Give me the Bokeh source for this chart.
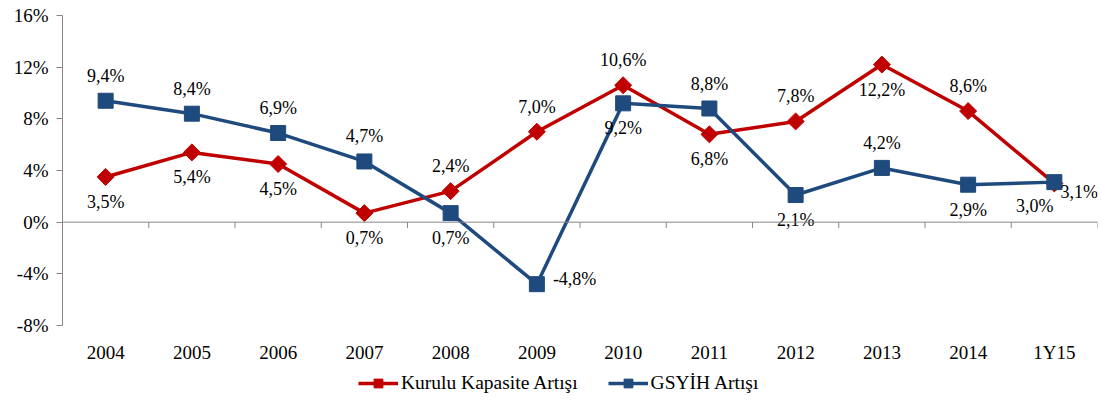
import math
from bokeh.plotting import figure
from bokeh.models import (ColumnDataSource, FixedTicker, Span, Legend, LegendItem)
from bokeh.layouts import column
from bokeh.core.properties import value
from bokeh.embed import file_html
from bokeh.resources import INLINE

years = ["2004", "2005", "2006", "2007", "2008", "2009", "2010", "2011", "2012", "2013", "2014", "1Y15"]
kapasite = [3.5, 5.4, 4.5, 0.7, 2.4, 7.0, 10.6, 6.8, 7.8, 12.2, 8.6, 3.0]
gsyih = [9.4, 8.4, 6.9, 4.7, 0.7, -4.8, 9.2, 8.8, 2.1, 4.2, 2.9, 3.1]
y_ticks = [-8, -4, 0, 4, 8, 12, 16]
series_names = ["Kurulu Kapasite Artışı", "GSYİH Artışı"]

# label placement per point
kap_pos = ["below", "below", "below", "below", "above", "above", "above", "below", "above", "below", "above", "belowleft"]
gsy_pos = ["above", "above", "above", "above", "below", "right", "below", "above", "below", "above", "below", "rightnear"]

RED = "#C00000"
BLUE = "#1F4A7E"
FONT = "Liberation Serif"
FS = "18px"
AXFS = "19px"

xs = list(range(len(years)))

p = figure(width=1101, height=365, output_backend="svg", toolbar_location=None,
           x_range=(-0.5, len(years) - 0.5), y_range=(-8, 16),
           min_border_left=62, min_border_right=4, min_border_top=15, min_border_bottom=40)
p.outline_line_color = None
p.xgrid.grid_line_color = None
p.ygrid.grid_line_color = None

# y axis
p.yaxis.ticker = FixedTicker(ticks=y_ticks)
p.yaxis.major_label_overrides = {t: f"{t}%" for t in y_ticks}
p.yaxis.axis_line_color = "#868686"
p.yaxis.major_tick_line_color = "#868686"
p.yaxis.major_tick_out = 6
p.yaxis.major_tick_in = 0
p.yaxis.minor_tick_line_color = None
p.yaxis.major_label_text_font = FONT
p.yaxis.major_label_text_font_size = AXFS
p.yaxis.major_label_text_color = "#000000"
p.yaxis.major_label_standoff = 8

# x axis (labels only)
p.xaxis.ticker = FixedTicker(ticks=xs)
p.xaxis.major_label_overrides = {i: y for i, y in enumerate(years)}
p.xaxis.axis_line_color = None
p.xaxis.major_tick_line_color = None
p.xaxis.minor_tick_line_color = None
p.xaxis.major_label_text_font = FONT
p.xaxis.major_label_text_font_size = AXFS
p.xaxis.major_label_text_color = "#000000"
p.xaxis.major_label_standoff = 10

# zero line with category boundary ticks
p.add_layout(Span(location=0, dimension="width", line_color="#868686", line_width=1))
bx = [i + 0.5 for i in xs]
p.segment(x0=bx, y0=[0] * len(bx), x1=bx, y1=[-0.45] * len(bx), line_color="#868686", line_width=1)

src = ColumnDataSource(dict(x=xs, k=kapasite, g=gsyih))

def draw_series(fig, dsize=12, ssize=15):
    a = fig.line("x", "k", source=src, line_color=RED, line_width=3.5)
    b = fig.scatter("x", "k", source=src, marker="square", angle=math.pi / 4, size=dsize,
                    fill_color=RED, line_color=RED)
    c = fig.line("x", "g", source=src, line_color=BLUE, line_width=3.5)
    d = fig.scatter("x", "g", source=src, marker="square", size=ssize, fill_color=BLUE, line_color=BLUE)
    return a, b, c, d

draw_series(p)

def fmt(v):
    return f"{v:.1f}".replace(".", ",") + "%"

offsets = {
    "above": (0, 25, "center"),
    "below": (0, -25, "center"),
    "right": (16, 5, "left"),
    "rightnear": (6, -10, "left"),
    "belowleft": (-1, -23, "right"),
}

def add_labels(vals, pos):
    for anchor in ["center", "left", "right"]:
        lx, ly, txt, xo, yo = [], [], [], [], []
        for i, (v, ps) in enumerate(zip(vals, pos)):
            dx, dy, a = offsets[ps]
            if a != anchor:
                continue
            lx.append(i); ly.append(v); txt.append(fmt(v)); xo.append(dx); yo.append(-dy)
        if not lx:
            continue
        s = ColumnDataSource(dict(x=lx, y=ly, t=txt, xo=xo, yo=yo))
        p.text("x", "y", text="t", source=s, x_offset="xo", y_offset="yo",
               text_align=anchor, text_baseline="middle",
               text_font=value(FONT), text_font_size=FS, text_color="#000000")

add_labels(kapasite, kap_pos)
add_labels(gsyih, gsy_pos)

# legend strip (separate figure below the chart; its ranges keep the series off-screen)
lg = figure(width=1101, height=36, output_backend="svg", toolbar_location=None,
            x_range=(100, 101), y_range=(100, 101), min_border=0)
lg.axis.visible = False
lg.grid.visible = False
lg.outline_line_color = None
l1, m1, l2, m2 = draw_series(lg, dsize=11, ssize=14)

legend = Legend(items=[LegendItem(label=series_names[0], renderers=[l1, m1]),
                       LegendItem(label=series_names[1], renderers=[l2, m2])],
                orientation="horizontal", location=(296, 7))
legend.label_text_font = FONT
legend.label_text_font_size = "19.5px"
legend.label_text_color = "#000000"
legend.glyph_width = 40
legend.glyph_height = 22
legend.spacing = 30
legend.label_standoff = 3
legend.border_line_color = None
legend.background_fill_alpha = 0
legend.padding = 0
legend.margin = 0
lg.add_layout(legend)

layout = column(p, lg, spacing=0)
open("out.html", "w").write(file_html(layout, INLINE))
